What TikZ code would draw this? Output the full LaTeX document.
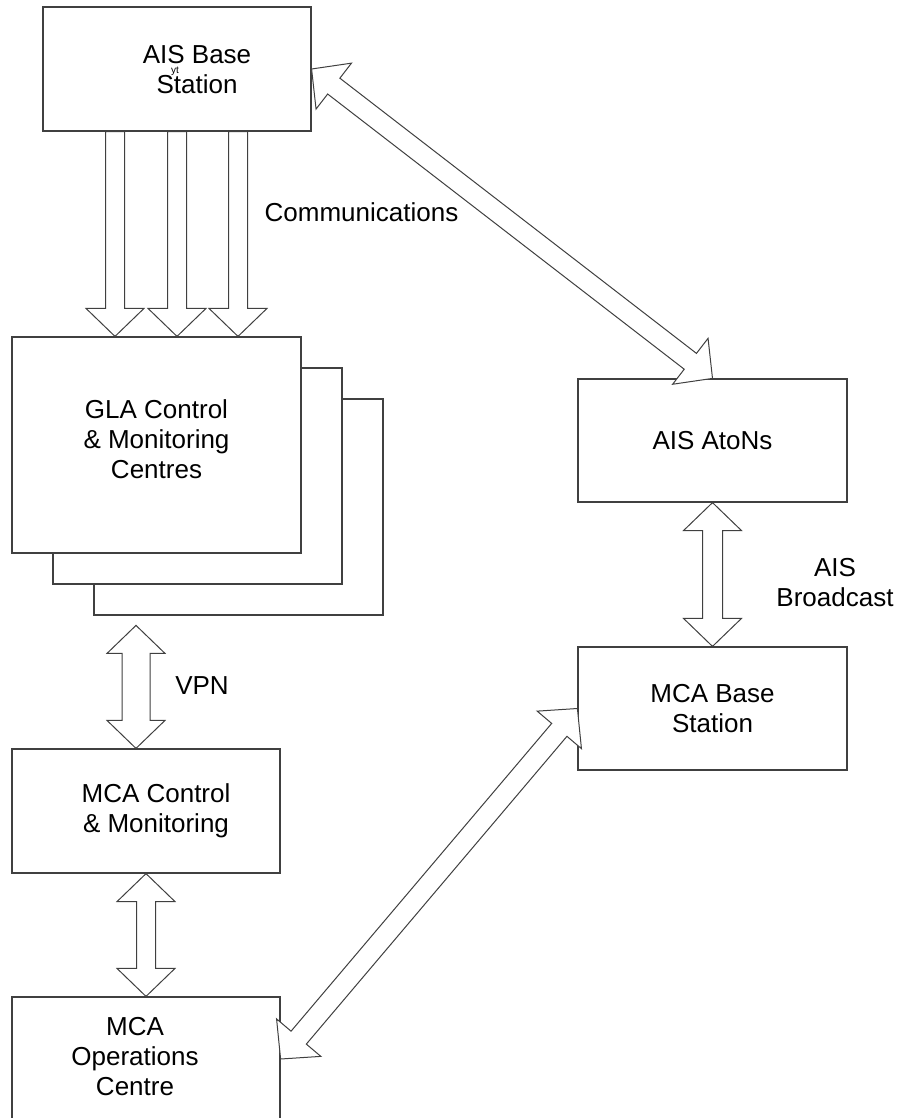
\documentclass[tikz,border=0pt]{standalone}
\usepackage{fontspec}
\setmainfont{Liberation Sans}
\definecolor{boxline}{HTML}{404040}
\usetikzlibrary{calc,positioning}
\tikzset{
    unitbox/.style={
        draw=boxline,
        fill=white,
        line width=0.6pt,
        inner sep=0pt,
        minimum width=134pt,
        minimum height=62pt,
        align=center,
        font=\fontsize{13}{15}\selectfont
    },
    glabox/.style={
        unitbox,
        minimum width=144.5pt,
        minimum height=108pt
    },
    boxtext/.style={
        align=center,
        inner sep=0pt,
        font=\fontsize{13}{15}\selectfont
    },
    flowarrow/.style={
        draw=boxline,
        fill=white,
        line width=0.5pt,
        line join=miter
    }
}
\newcommand{\arrowheadlen}{14pt}
\newcommand{\arrowheadhalf}{14.5pt}
% #1 shaft half width, #2 tail, #3 tip
\newcommand{\onewayarrow}[3]{%
    \coordinate (hb) at ($(#3)!\arrowheadlen!(#2)$);
    \draw[flowarrow] ($(#2)!#1!90:(#3)$) -- ($(hb)!#1!-90:(#2)$)
        -- ($(hb)!\arrowheadhalf!-90:(#2)$) -- (#3)
        -- ($(hb)!\arrowheadhalf!90:(#2)$) -- ($(hb)!#1!90:(#2)$)
        -- ($(#2)!#1!-90:(#3)$) -- cycle;
}
% #1 shaft half width, #2 and #3 tips
\newcommand{\twowayarrow}[3]{%
    \coordinate (ha) at ($(#2)!\arrowheadlen!(#3)$);
    \coordinate (hb) at ($(#3)!\arrowheadlen!(#2)$);
    \draw[flowarrow] (#2) -- ($(ha)!\arrowheadhalf!90:(#3)$) -- ($(ha)!#1!90:(#3)$)
        -- ($(hb)!#1!-90:(#2)$) -- ($(hb)!\arrowheadhalf!-90:(#2)$) -- (#3)
        -- ($(hb)!\arrowheadhalf!90:(#2)$) -- ($(hb)!#1!90:(#2)$)
        -- ($(ha)!#1!-90:(#3)$) -- ($(ha)!\arrowheadhalf!-90:(#3)$) -- cycle;
}

\begin{document}
\begin{tikzpicture}[x=0.5pt,y=-0.5pt]
        \clip (0,0) rectangle (896,1118);

        \node[unitbox] (aisbase) at (177,69) {};
        \node[boxtext] (aisbasetext) at ($(aisbase)+(20,1)$) {AIS Base\\Station};
        \node[boxtext,font=\fontsize{5}{6}\selectfont] (ytmark) at (175,71) {yt};

        \node[glabox] (gla3) at (238.5,507) {};
        \node[glabox] (gla2) at ($(gla3)+(-41,-31)$) {};
        \node[glabox] (gla) at ($(gla2)+(-41,-31)$) {};
        \node[boxtext] (glatext) at ($(gla)+(0,-6)$) {GLA Control\\\& Monitoring\\Centres};

        \node[unitbox,minimum width=134.5pt,minimum height=61.5pt] (atons) at (712.5,440.5) {AIS AtoNs};
        \node[unitbox,minimum width=134.5pt,minimum height=61.5pt] (mcabase) at (712.5,708.5) {MCA Base\\Station};

        \node[unitbox] (mcactrl) at (146,811) {};
        \node[boxtext] (mcactrltext) at ($(mcactrl)+(10,0)$) {MCA Control\\\& Monitoring};
        \node[unitbox] (mcaops) at (146,1059) {};
        \node[boxtext] (mcaopstext) at ($(mcaops)+(-11,-2)$) {MCA\\Operations\\Centre};

        \node[boxtext] (commlabel) at (361.5,212) {Communications};
        \node[boxtext] (vpnlabel) at (202,686) {VPN};
        \node[boxtext] (broadcastlabel) at (835,583) {AIS\\Broadcast};

        \foreach \dx in {-62,0,61} {
            \coordinate (tail) at ($(aisbase.south)+(\dx,0)$);
            \coordinate (tip) at (tail |- gla.north);
            \onewayarrow{4.75pt}{tail}{tip}
        }

        \coordinate (vpntop) at ($(mcactrl.north)+(-10,-123)$);
        \coordinate (vpnbottom) at ($(mcactrl.north)+(-10,0)$);
        \twowayarrow{7pt}{vpntop}{vpnbottom}
        \twowayarrow{4.75pt}{mcactrl.south}{mcaops.north}
        \twowayarrow{5pt}{atons.south}{mcabase.north}
        \twowayarrow{5pt}{aisbase.east}{atons.north}
        \twowayarrow{5pt}{mcaops.east}{mcabase.west}
    \end{tikzpicture}
\end{document}
